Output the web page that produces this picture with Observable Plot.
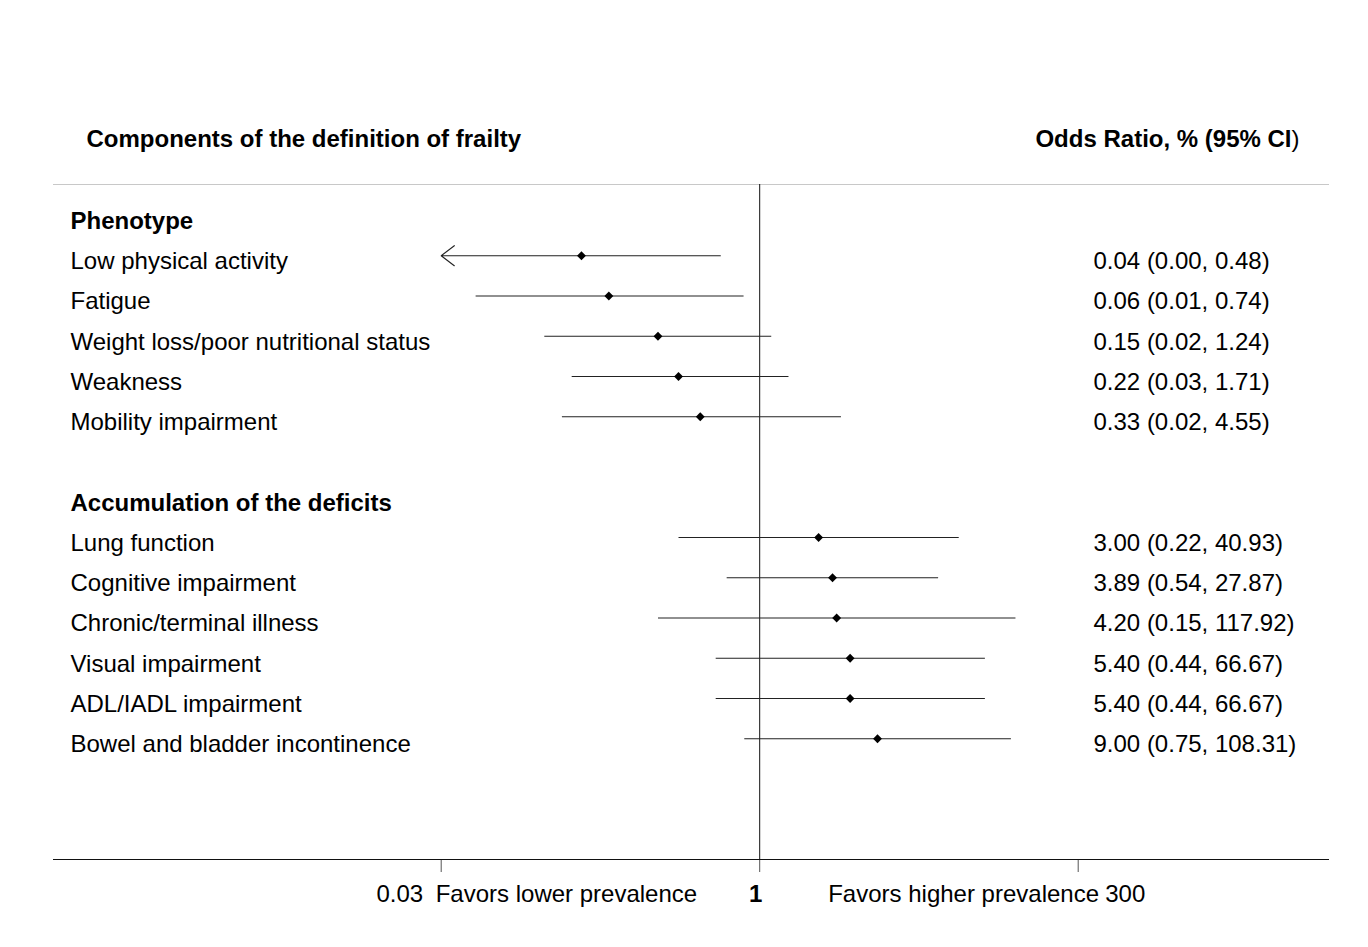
<!DOCTYPE html>
<html>
<head>
<meta charset="utf-8">
<script src="https://cdn.jsdelivr.net/npm/d3@7"></script>
<script src="https://cdn.jsdelivr.net/npm/@observablehq/plot@0.6"></script>
<style>
  html, body { margin: 0; padding: 0; background: #fff; }
  #chart svg { display: block; }
</style>
</head>
<body>
<div id="chart"></div>
<script>
// ---------------- data ----------------
const groupNames = ["Phenotype", "Accumulation of the deficits"];
const labels = [
  "Low physical activity", "Fatigue", "Weight loss/poor nutritional status", "Weakness", "Mobility impairment",
  "Lung function", "Cognitive impairment", "Chronic/terminal illness", "Visual impairment", "ADL/IADL impairment",
  "Bowel and bladder incontinence"
];
const groups = [
  "Phenotype", "Phenotype", "Phenotype", "Phenotype", "Phenotype",
  "Accumulation of the deficits", "Accumulation of the deficits", "Accumulation of the deficits",
  "Accumulation of the deficits", "Accumulation of the deficits", "Accumulation of the deficits"
];
const orValues = [0.036, 0.06, 0.15, 0.22, 0.33, 3.00, 3.89, 4.20, 5.40, 5.40, 9.00];
const loValues = [0.00, 0.005, 0.018, 0.03, 0.025, 0.22, 0.54, 0.15, 0.44, 0.44, 0.75];
const hiValues = [0.48, 0.74, 1.24, 1.71, 4.55, 40.93, 27.87, 117.92, 66.67, 66.67, 108.31];
const orTexts = [
  "0.04 (0.00, 0.48)", "0.06 (0.01, 0.74)", "0.15 (0.02, 1.24)", "0.22 (0.03, 1.71)", "0.33 (0.02, 4.55)",
  "3.00 (0.22, 40.93)", "3.89 (0.54, 27.87)", "4.20 (0.15, 117.92)", "5.40 (0.44, 66.67)", "5.40 (0.44, 66.67)",
  "9.00 (0.75, 108.31)"
];
const tickLabels = ["0.03", "1", "300"];
const favorLabels = ["Favors lower prevalence", "Favors higher prevalence"];
const headerLeft = "Components of the definition of frailty";
const headerRight = ["Odds Ratio, % (95% CI", ")"];

// axis limits (log scale, symmetric around 1)
const xMin = 1 / 380, xMax = 380;
const tickValues = [xMin, 1, xMax];

// ---------------- layout rows ----------------
let row = 0;
const groupRows = [];
const items = [];
groupNames.forEach((g) => {
  groupRows.push({name: g, row: row++});
  labels.forEach((lab, i) => {
    if (groups[i] === g) {
      items.push({label: lab, or: orValues[i], lo: loValues[i], hi: hiValues[i], text: orTexts[i], row: row++});
    }
  });
  row++; // blank spacer row
});
const yTop = -0.77, yBottom = 16;
const headerRow = -2;

const font = "'Liberation Sans', Arial, Helvetica, sans-serif";
const FS = 24;
const clipped = items.filter(d => d.lo < xMin);
const unclipped = items.filter(d => d.lo >= xMin);

const chart = Plot.plot({
  width: 1368,
  height: 947,
  marginTop: 184,
  marginBottom: 88,
  marginLeft: 53,
  marginRight: 39,
  style: {fontFamily: font, background: "#fff", color: "#000"},
  x: {type: "log", domain: [xMin, xMax], range: [440.7, 1077.7], axis: null},
  y: {domain: [yTop, yBottom], range: [184, 859], axis: null},
  marks: [
    Plot.ruleY([yTop], {stroke: "#c8c8c8", strokeWidth: 1}),
    Plot.ruleX([1], {stroke: "#111", strokeWidth: 1}),
    Plot.axisX({ticks: tickValues, tickSize: 13, tickFormat: () => "", stroke: "#555", label: null}),
    Plot.ruleY([yBottom], {stroke: "#111", strokeWidth: 1}),
    Plot.link(unclipped, {x1: "lo", x2: "hi", y1: "row", y2: "row", stroke: "#222", strokeWidth: 1.1}),
    Plot.arrow(clipped, {x1: "hi", x2: () => xMin, y1: "row", y2: "row", stroke: "#222", strokeWidth: 1.1, headLength: 22.5, headAngle: 75}),
    Plot.dot(items, {x: "or", y: "row", symbol: "diamond2", r: 4, fill: "#000", stroke: "none"}),
    // left labels
    Plot.text(groupRows, {text: "name", y: "row", frameAnchor: "left", dx: 17, dy: 5.6, textAnchor: "start", fontSize: FS, fontWeight: "bold", fill: "#000"}),
    Plot.text(items, {text: "label", y: "row", frameAnchor: "left", dx: 17, dy: 5.6, textAnchor: "start", fontSize: FS, fill: "#000"}),
    // right OR labels
    Plot.text(items, {text: "text", y: "row", frameAnchor: "right", dx: -236, dy: 5.6, textAnchor: "start", fontSize: FS, fill: "#000"}),
    // headers
    Plot.text([headerLeft], {text: d => d, y: () => headerRow, frameAnchor: "left", dx: 33, dy: 4.5, textAnchor: "start", fontSize: FS, fontWeight: "bold", fill: "#000"}),
    Plot.text([headerRight[0]], {text: d => d, y: () => headerRow, frameAnchor: "right", dx: -38, dy: 4.5, textAnchor: "end", fontSize: FS, fontWeight: "bold", fill: "#000"}),
    Plot.text([headerRight[1]], {text: d => d, y: () => headerRow, frameAnchor: "right", dx: -38, dy: 4.5, textAnchor: "start", fontSize: FS, fill: "#000"}),
    // bottom axis labels
    Plot.text([tickLabels[0]], {text: d => d, x: () => xMin, y: () => yBottom, dx: -18, dy: 35, textAnchor: "end", fontSize: FS, fill: "#000"}),
    Plot.text([favorLabels[0]], {text: d => d, x: () => xMin, y: () => yBottom, dx: -5.5, dy: 35, textAnchor: "start", fontSize: FS, fill: "#000"}),
    Plot.text([tickLabels[1]], {text: d => d, x: () => 1, y: () => yBottom, dx: -4, dy: 35, textAnchor: "middle", fontSize: FS, fontWeight: "bold", fill: "#000"}),
    Plot.text([favorLabels[1]], {text: d => d, x: () => 1, y: () => yBottom, dx: 68.5, dy: 35, textAnchor: "start", fontSize: FS, fill: "#000"}),
    Plot.text([tickLabels[2]], {text: d => d, x: () => xMax, y: () => yBottom, dx: 27, dy: 35, textAnchor: "start", fontSize: FS, fill: "#000"})
  ]
});
document.getElementById("chart").appendChild(chart);
</script>
</body>
</html>
